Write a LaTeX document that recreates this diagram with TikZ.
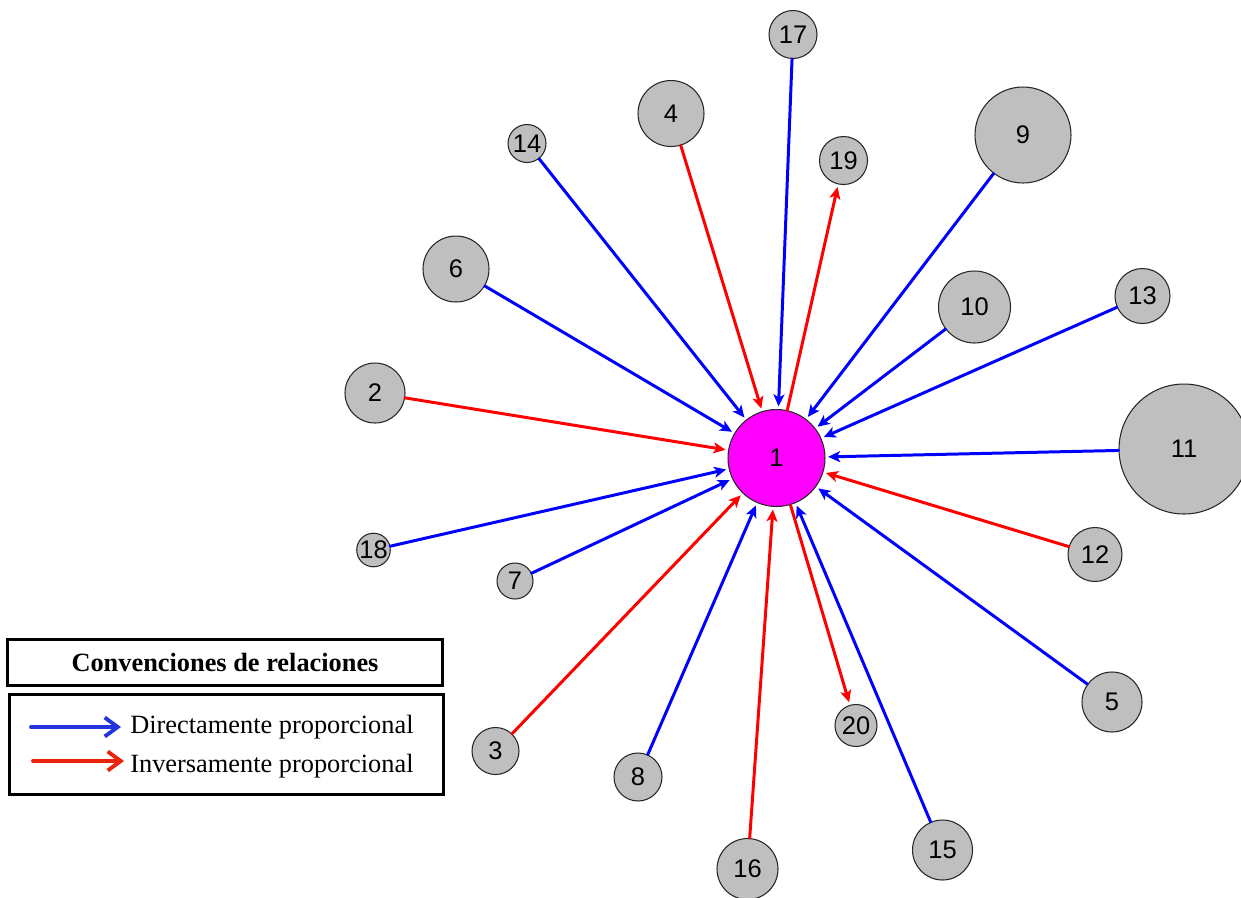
\documentclass[tikz,border=0pt]{standalone}
\usepackage{fontspec}
\setmainfont{Liberation Serif}
\newfontfamily\labfont{Liberation Sans}
\usetikzlibrary{arrows.meta}
\definecolor{legblue}{RGB}{36,52,222}
\definecolor{legred}{RGB}{232,36,12}
\definecolor{centremag}{RGB}{255,0,255}

\begin{document}
\begin{tikzpicture}[x=0.02cm,y=-0.02cm,>={Stealth[length=2.4mm,width=2.2mm,inset=0.6mm]},line cap=round,
  vert/.style={circle,draw=black!85,line width=0.6pt,fill=gray!50,inner sep=0pt,font=\labfont\fontsize{14.5}{16}\selectfont},
  direl/.style={->,blue,line width=1.7pt,shorten >=1.5pt},
  invrel/.style={->,red,line width=1.7pt,shorten >=1.5pt},
  legbox/.style={draw,line width=1.7pt,inner sep=0pt},
  legarr/.style={-{Straight Barb[length=2.6mm,width=3.8mm]},line width=2.2pt}]
\useasboundingbox (0,0) rectangle (1241,897);
\clip (0,0) rectangle (1241,897);

% nodes
\node[vert,fill=centremag,minimum size=1.94cm] (n1) at (776.5,458) {1};
\node[vert,minimum size=1.20cm] (n2) at (375,393) {2};
\node[vert,minimum size=0.94cm] (n3) at (495.5,751) {3};
\node[vert,minimum size=1.32cm] (n4) at (671,113.5) {4};
\node[vert,minimum size=1.20cm] (n5) at (1112,702) {5};
\node[vert,minimum size=1.32cm] (n6) at (456,269) {6};
\node[vert,minimum size=0.72cm] (n7) at (515,581) {7};
\node[vert,minimum size=0.96cm] (n8) at (638,777) {8};
\node[vert,minimum size=1.92cm] (n9) at (1023,135) {9};
\node[vert,minimum size=1.44cm] (n10) at (974.5,307) {10};
\node[vert,minimum size=2.60cm] (n11) at (1184,449) {11};
\node[vert,minimum size=1.08cm] (n12) at (1095,554.5) {12};
\node[vert,minimum size=1.10cm] (n13) at (1142.5,296) {13};
\node[vert,minimum size=0.76cm] (n14) at (527,143.5) {14};
\node[vert,minimum size=1.20cm] (n15) at (942.5,850) {15};
\node[vert,minimum size=1.22cm] (n16) at (747.5,869) {16};
\node[vert,minimum size=0.96cm] (n17) at (793,34.5) {17};
\node[vert,minimum size=0.62cm] (n18) at (373.5,550) {18};
\node[vert,minimum size=0.96cm] (n19) at (843.5,160.5) {19};
\node[vert,minimum size=0.84cm] (n20) at (856,725.5) {20};

% relations
\draw[direl] (n17) -- (n1);
\draw[invrel] (n4) -- (n1);
\draw[direl] (n14) -- (n1);
\draw[invrel] (n1) -- (n19);
\draw[direl] (n9) -- (n1);
\draw[direl] (n6) -- (n1);
\draw[direl] (n10) -- (n1);
\draw[direl] (n13) -- (n1);
\draw[invrel] (n2) -- (n1);
\draw[direl] (n11) -- (n1);
\draw[direl] (n18) -- (n1);
\draw[direl] (n7) -- (n1);
\draw[invrel] (n12) -- (n1);
\draw[invrel] (n3) -- (n1);
\draw[direl] (n8) -- (n1);
\draw[invrel] (n1) -- (n20);
\draw[direl] (n5) -- (n1);
\draw[invrel] (n16) -- (n1);
\draw[direl] (n15) -- (n1);

% legend
\node[legbox,minimum width=8.70cm,minimum height=0.92cm] (convtitle) at (225,662.5)
  {\bfseries\fontsize{15}{18}\selectfont Convenciones de relaciones};
\node[legbox,minimum width=8.68cm,minimum height=2.00cm] (convbox) at (226.5,744.5) {};
\coordinate (dirA) at (31,727);
\coordinate (dirB) at (121,727);
\coordinate (invA) at (33,761);
\coordinate (invB) at (124,761);
\draw[legarr,legblue] (dirA) -- (dirB);
\draw[legarr,legred] (invA) -- (invB);
\node[anchor=base west,inner sep=0pt,font=\fontsize{15}{18}\selectfont] (dirtxt) at (130,733) {Directamente proporcional};
\node[anchor=base west,inner sep=0pt,font=\fontsize{15}{18}\selectfont] (invtxt) at (130,772) {Inversamente proporcional};
\end{tikzpicture}
\end{document}
